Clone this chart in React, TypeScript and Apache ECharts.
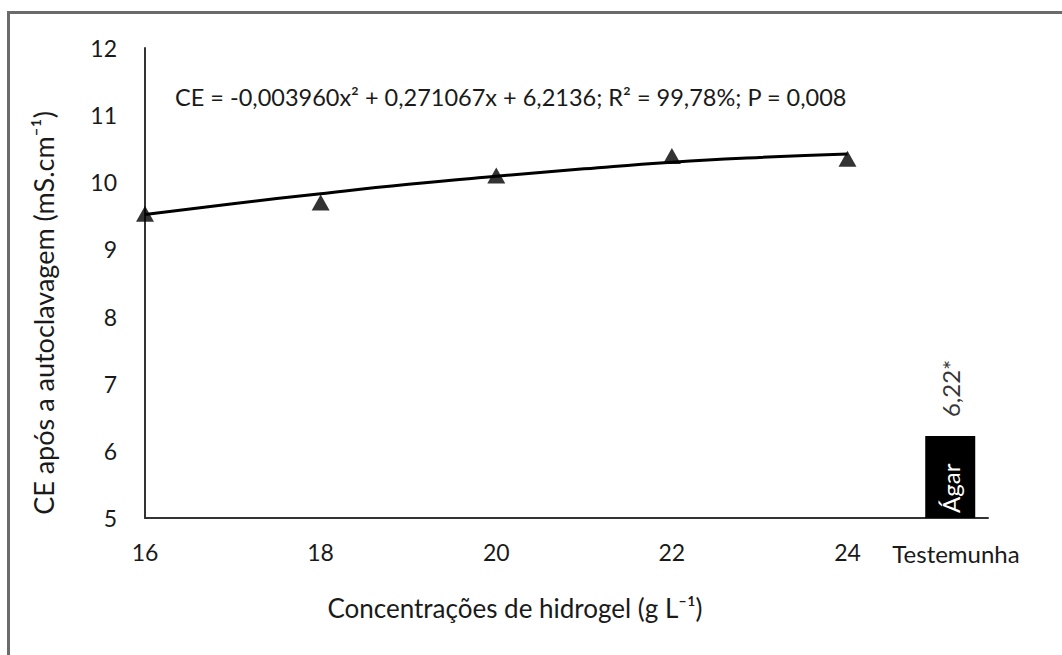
import React, { useEffect, useRef } from "react";
import * as echarts from "echarts";

// Observed means (triangles)
const concentrations = [16, 18, 20, 22, 24];
const ceObserved = [9.53, 9.7, 10.1, 10.39, 10.35];

// Fitted curve
const fitX = [16, 17, 18, 19, 20, 21, 22, 23, 24];
const fitCE = [9.52, 9.68, 9.83, 9.97, 10.09, 10.2, 10.3, 10.37, 10.42];

// Control (Testemunha, Ágar)
const controlPosition = 25.17;
const controlValue = 6.22;
const controlName = "Ágar";
const controlLabel = "6,22*";
const controlCategory = "Testemunha";

const xTickLabels = [16, 18, 20, 22, 24];
const yMin = 5;
const yMax = 12;

const equationText =
  "CE = -0,003960x² + 0,271067x + 6,2136; R² = 99,78%; P = 0,008";
const xTitle = "Concentrações de hidrogel (g L⁻¹)";
const yTitle = "CE após a autoclavagem (mS.cm⁻¹)";

const FONT = "Lato";

export default function App() {
  const ref = useRef<HTMLDivElement>(null);
  useEffect(() => {
    if (!ref.current) return;
    const chart = echarts.init(ref.current, null, { renderer: "svg" });
    const option = {
      animation: false,
      backgroundColor: "#ffffff",
      textStyle: { fontFamily: FONT },
      grid: { left: 145, right: 74, top: 48, bottom: 137 },
      xAxis: {
        type: "value",
        min: 16,
        max: 25.6,
        interval: 2,
        splitLine: { show: false },
        axisTick: { show: false },
        axisLine: { show: true, lineStyle: { color: "#333", width: 2 } },
        axisLabel: {
          margin: 22,
          fontSize: 23,
          color: "#1a1a1a",
          fontFamily: FONT,
          formatter: (v: number) => (xTickLabels.includes(v) ? String(v) : ""),
        },
      },
      yAxis: {
        type: "value",
        min: yMin,
        max: yMax,
        interval: 1,
        splitLine: { show: false },
        axisTick: { show: false },
        axisLine: { show: true, lineStyle: { color: "#333", width: 2 } },
        axisLabel: { margin: 28, fontSize: 23, color: "#1a1a1a", fontFamily: FONT },
      },
      series: [
        {
          type: "line",
          data: fitX.map((x, i) => [x, fitCE[i]]),
          smooth: true,
          showSymbol: false,
          lineStyle: { color: "#000", width: 3 },
          z: 3,
        },
        {
          type: "scatter",
          data: concentrations.map((x, i) => [x, ceObserved[i]]),
          symbol: "triangle",
          symbolSize: [18, 16],
          itemStyle: { color: "#000" },
          z: 4,
        },
        {
          type: "bar",
          data: [[controlPosition, controlValue]],
          barWidth: 50,
          itemStyle: { color: "#000" },
          label: {
            show: true,
            formatter: controlName,
            position: "insideBottom",
            rotate: 90,
            align: "left",
            verticalAlign: "middle",
            distance: 5,
            color: "#fff",
            fontSize: 24,
            fontFamily: FONT,
          },
        },
        {
          type: "scatter",
          data: [[controlPosition, controlValue]],
          symbolSize: 0,
          itemStyle: { color: "#000" },
          label: {
            show: true,
            formatter: controlLabel,
            position: "top",
            rotate: 90,
            align: "left",
            verticalAlign: "middle",
            distance: 19,
            color: "#000",
            fontSize: 24,
            fontFamily: FONT,
          },
        },
      ],
      graphic: [
        {
          type: "rect",
          shape: { x: 8.5, y: 12.5, width: 1100, height: 700 },
          style: { fill: "none", stroke: "#6b6b6b", lineWidth: 3 },
          silent: true,
        },
        {
          type: "text",
          x: 175,
          y: 97,
          style: {
            text: equationText,
            fontSize: 23.5,
            fontFamily: FONT,
            fill: "#1a1a1a",
            textAlign: "left",
            textVerticalAlign: "middle",
          },
        },
        {
          type: "text",
          x: 956,
          y: 553,
          style: {
            text: controlCategory,
            fontSize: 24,
            fontFamily: FONT,
            fill: "#1a1a1a",
            textAlign: "center",
            textVerticalAlign: "middle",
          },
        },
        {
          type: "text",
          x: 515,
          y: 608,
          style: {
            text: xTitle,
            fontSize: 26,
            fontFamily: FONT,
            fill: "#1a1a1a",
            textAlign: "center",
            textVerticalAlign: "middle",
          },
        },
        {
          type: "text",
          x: 43,
          y: 313,
          rotation: Math.PI / 2,
          style: {
            text: yTitle,
            fontSize: 27,
            fontFamily: FONT,
            fill: "#1a1a1a",
            textAlign: "center",
            textVerticalAlign: "middle",
          },
        },
      ],
    };
    chart.setOption(option as any);
    return () => chart.dispose();
  }, []);
  return (
    <div
      ref={ref}
      style={{ position: "absolute", left: 0, top: 0, width: 1062, height: 655 }}
    />
  );
}
